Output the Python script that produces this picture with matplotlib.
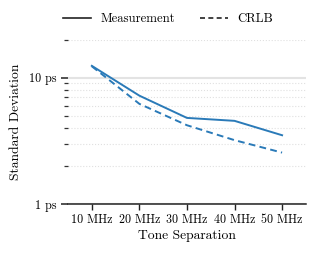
import matplotlib
matplotlib.use("Agg")
import matplotlib.pyplot as plt
from matplotlib.lines import Line2D

# data
tone_sep = ["10 MHz", "20 MHz", "30 MHz", "40 MHz", "50 MHz"]
measurement = [12.4, 7.2, 4.8, 4.55, 3.5]
crlb = [12.3, 6.2, 4.2, 3.2, 2.55]

plt.rcParams['font.family'] = 'serif'
plt.rcParams['font.serif'] = ['cmr10']
plt.rcParams['mathtext.fontset'] = 'cm'
plt.rcParams['axes.unicode_minus'] = False
plt.rcParams['font.size'] = 8.7

line_color = '#2a7ab8'

fig = plt.figure(figsize=(3.15, 2.54), dpi=100)
ax = fig.add_axes([0.216, 0.197, 0.755, 0.647])

x = list(range(len(tone_sep)))
ax.plot(x, measurement, color=line_color, lw=1.4, ls='-')
ax.plot(x, crlb, color=line_color, lw=1.4, ls=(0, (3.5, 2.2)))

ax.set_yscale('log')
ax.set_ylim(1, 20)
ax.set_xlim(-0.5, 4.5)
ax.set_xticks(x)
ax.set_xticklabels(tone_sep)
ax.set_yticks([1, 10])
ax.set_yticklabels(["1 ps", "10 ps"])
ax.set_yticks([2, 3, 4, 5, 6, 7, 8, 9, 20], minor=True)
ax.set_yticklabels([], minor=True)

ax.grid(True, axis='y', which='major', color='#e3e3e3', lw=1.5, ls='-')
ax.grid(True, axis='y', which='minor', color='#e0e0e0', lw=0.8, ls=':')
ax.set_axisbelow(True)

for side in ['left', 'right', 'top']:
    ax.spines[side].set_visible(False)
ax.spines['bottom'].set_linewidth(1.1)
ax.spines['bottom'].set_color('#222222')

ax.tick_params(axis='y', which='major', length=5, width=1.1, color='#222222', pad=3)
ax.tick_params(axis='y', which='minor', length=3, width=0.9, color='#333333')
ax.tick_params(axis='x', which='major', length=4, width=1.0, color='#222222', pad=3)

ax.set_ylabel('Standard Deviation', fontsize=9.8, labelpad=5)
ax.set_xlabel('Tone Separation', fontsize=9.8, labelpad=3)

handles = [Line2D([], [], color='#222222', lw=1.2, ls='-'),
           Line2D([], [], color='#222222', lw=1.2, ls=(0, (3, 2)))]
ax.legend(handles, ['Measurement', 'CRLB'], loc='center left',
          bbox_to_anchor=(-0.021, 1.125), ncol=2, frameon=False,
          borderpad=0, borderaxespad=0, handlelength=2.2, fontsize=9.2,
          handletextpad=0.7, columnspacing=2.0)

fig.savefig('out.png', dpi=100)
